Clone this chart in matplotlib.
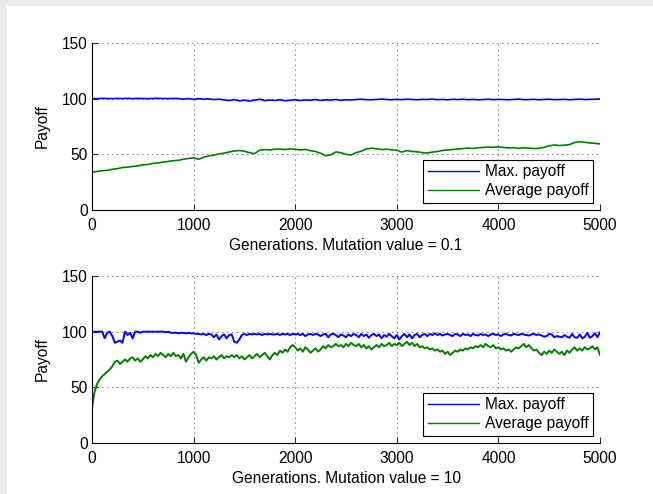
import numpy as np
import matplotlib
matplotlib.use("Agg")
import matplotlib.pyplot as plt
from matplotlib.patches import Rectangle

plt.rcParams['font.family'] = ['Liberation Sans', 'DejaVu Sans']

# ---------------- data ----------------
gen_top = list(range(0, 5001, 50))      # 101 samples
gen_bot = list(range(0, 5001, 25))      # 201 samples

max_top = [
    100.2, 100.0, 100.3, 100.1, 100.0, 100.2, 100.1, 100.3, 100.0, 100.2, 100.1, 100.0, 100.2, 100.3, 100.1, 100.0, 100.2, 100.1,
    99.6, 100.1, 99.3, 100.0, 99.5, 99.8, 99.2, 99.6,
    98.8, 98.3, 99.2, 98.0, 98.6, 97.9, 98.7, 99.5, 98.2, 98.8, 98.4, 99.0, 98.1, 98.5, 99.1, 98.3, 98.8, 98.6, 99.2, 98.4, 98.9, 98.7, 99.3, 98.5, 99.0,
    98.8, 99.2, 99.5, 99.1, 99.0, 99.3, 99.6, 99.2, 99.0, 99.4, 99.1, 99.5, 99.3, 99.0, 99.4, 99.2, 99.6, 99.1, 99.3, 99.0,
    99.4, 99.2, 99.5, 99.1, 99.3, 99.0, 99.2, 99.5, 99.1, 99.4, 99.2, 99.0, 99.3, 99.6, 99.1, 99.2, 99.4, 99.0, 99.3, 99.5,
    99.1, 99.2, 99.4, 99.0, 99.3, 99.6, 99.2, 99.4, 99.5, 99.8,
]

avg_top = [
    34.0, 34.6, 35.3, 35.6, 36.6, 37.1, 38.2, 38.5, 39.2, 39.6,
    40.5, 40.9, 41.9, 42.3, 43.0, 43.6, 44.3, 44.6, 45.6, 46.3,
    46.8, 45.6, 47.4, 48.6, 49.3, 50.4, 51.0, 52.1, 53.0, 53.4,
    52.8, 51.5, 50.6, 53.8, 54.2, 53.9, 54.6, 54.8, 54.3, 54.9,
    54.5, 54.0, 54.4, 53.3, 52.5, 51.0, 48.8, 49.5, 52.2, 51.4,
    50.0, 49.4, 51.5, 52.8, 54.8, 55.5, 55.0, 54.3, 54.6, 54.0,
    53.6, 52.0, 53.4, 52.6, 52.3, 51.5, 51.2, 52.0, 52.6, 53.4,
    53.9, 54.3, 54.8, 55.2, 55.6, 55.3, 55.9, 56.2, 56.5, 56.3,
    56.8, 56.2, 55.8, 56.0, 55.4, 55.9, 55.6, 55.2, 55.4, 56.3,
    57.6, 58.4, 57.9, 58.2, 58.8, 60.6, 61.3, 60.8, 60.2, 59.9,
    59.4,
]

max_bot = [
    100, 100, 100, 100, 100, 94, 99, 100,
    96, 90, 91, 92, 90, 100, 97, 99,
    94, 100, 100, 99, 100, 100, 100, 100,
    100, 100, 100, 100, 100, 99.5, 100, 99,
    99, 99, 98.5, 99, 99, 98.5, 99, 98.5,
    98.5, 98, 98, 97.5, 98, 97, 98, 97.5,
    95, 97.5, 93, 96, 97.5, 94, 97, 97.5,
    91, 90, 93, 97, 98, 97, 98, 97.5,
    98, 97.5, 98, 97, 98, 97.5, 98, 97.5,
    97.5, 98, 97, 98, 97.5, 98, 97, 98,
    97.5, 98, 97, 98, 96, 97.5, 98, 97,
    98, 97.5, 96, 97.5, 98, 95, 97.5, 98,
    97, 95, 97.5, 96.5, 95, 97.5, 96, 98,
    97, 95, 98, 96, 97.5, 94.5, 97, 98,
    96, 97.5, 94, 97, 95.5, 98, 96, 94,
    97, 93, 96, 98, 95, 97.5, 94, 97,
    98, 95, 97, 98, 96, 98, 97, 98.5,
    97, 98, 96.5, 97.5, 98, 97, 96, 98,
    97.5, 96, 98, 97, 97.5, 96, 98, 97,
    96.5, 98, 97, 97.5, 96, 97.5, 98, 97,
    97.5, 96, 97.5, 98, 97, 96.5, 98, 97.5,
    97, 98, 97.5, 97, 96.5, 97.5, 98, 97,
    97.5, 96.5, 95.5, 96, 98, 97.5, 95, 96,
    95.5, 95, 97, 95.5, 94.5, 98, 95, 94.5,
    97.5, 94, 95.5, 99, 94.5, 96, 98.5, 95,
    99.5,
]

avg_bot = [
    32, 46, 53, 57, 60, 62, 64, 66,
    69, 73, 74, 71, 73, 75, 73, 76,
    77, 74, 76, 73, 75, 78, 76, 79,
    77, 80, 78, 81, 79, 77, 80, 78,
    81, 78, 79, 76, 80, 73, 77, 80,
    82, 79, 72, 75, 77, 74, 77, 76,
    78, 75, 77, 79, 76, 78, 77, 79,
    77, 79, 76, 78, 75, 77, 79, 76,
    78, 80, 77, 79, 81, 78, 75, 79,
    81, 79, 83, 81, 84, 82, 86, 88,
    86, 83, 85, 82, 86, 84, 81, 83,
    85, 82, 84, 87, 85, 88, 86, 87,
    89, 87, 88, 86, 89, 87, 90, 88,
    87, 89, 86, 88, 85, 87, 84, 86,
    88, 86, 89, 87, 88, 90, 87, 89,
    88, 90, 87, 89, 91, 88, 90, 87,
    89, 86, 87, 85, 86, 84, 85, 83,
    84, 82, 83, 80, 82, 79, 81, 83,
    82, 84, 83, 85, 84, 86, 85, 87,
    86, 88, 86, 89, 87, 86, 88, 85,
    86, 84, 85, 83, 84, 82, 84, 86,
    85, 87, 89, 86, 88, 85, 83, 84,
    81, 79, 82, 80, 83, 81, 84, 82,
    80, 82, 79, 83, 81, 84, 86, 83,
    85, 83, 86, 84, 85, 87, 84, 86,
    79,
]

series_labels = ["Max. payoff", "Average payoff"]
xlabels = ["Generations. Mutation value = 0.1", "Generations. Mutation value = 10"]
ylabel = "Payoff"
xticks = [0, 1000, 2000, 3000, 4000, 5000]
yticks = [0, 50, 100, 150]

BLUE = (0, 0, 1)
GREEN = (0, 0.5, 0)
FS = 11.2

# ---------------- figure ----------------
W, H = 653, 494
fig = plt.figure(figsize=(W / 100, H / 100), dpi=100, facecolor='#ebebeb')
fig.patches.append(Rectangle((7 / W, 0), 1, (H - 6) / H, transform=fig.transFigure,
                             facecolor='white', edgecolor='none', zorder=-10))

ax_w = (600 - 92) / W
ax_h = (210 - 43) / H
positions = [(92 / W, 1 - 210 / H, ax_w, ax_h),
             (92 / W, 1 - 443 / H, ax_w, ax_h)]

datasets = [(gen_top, max_top, avg_top, 1.2), (gen_bot, max_bot, avg_bot, 1.4)]

for pos, (gx, mx, av, lw), xl in zip(positions, datasets, xlabels):
    ax = fig.add_axes(pos)
    ax.set_facecolor('none')
    ax.plot(gx, mx, color=BLUE, lw=lw, label=series_labels[0])
    ax.plot(gx, av, color=GREEN, lw=lw, label=series_labels[1])
    ax.set_xlim(0, 5000)
    ax.set_ylim(0, 150)
    ax.set_xticks(xticks)
    ax.set_yticks(yticks)
    ax.grid(True, color='black', linestyle=(0, (1, 5)), linewidth=0.6)
    for s in ['top', 'right']:
        ax.spines[s].set_visible(False)
    for s in ['left', 'bottom']:
        ax.spines[s].set_linewidth(0.8)
    ax.tick_params(direction='in', length=4, width=0.6, labelsize=FS)
    ax.tick_params(axis='x', pad=6)
    ax.tick_params(axis='y', pad=3)
    ax.set_xlabel(xl, fontsize=FS, labelpad=3)
    ax.set_ylabel(ylabel, fontsize=FS, labelpad=9)
    leg = ax.legend(loc='lower right', fontsize=FS, frameon=True, fancybox=False,
                    edgecolor='black', framealpha=1, borderpad=0.3,
                    handlelength=3.3, handletextpad=0.35, labelspacing=0.25,
                    borderaxespad=0.45)
    leg.get_frame().set_linewidth(0.8)
    for ln in leg.get_lines():
        ln.set_linewidth(1.0)

fig.savefig('out.png', dpi=100, facecolor=fig.get_facecolor())
